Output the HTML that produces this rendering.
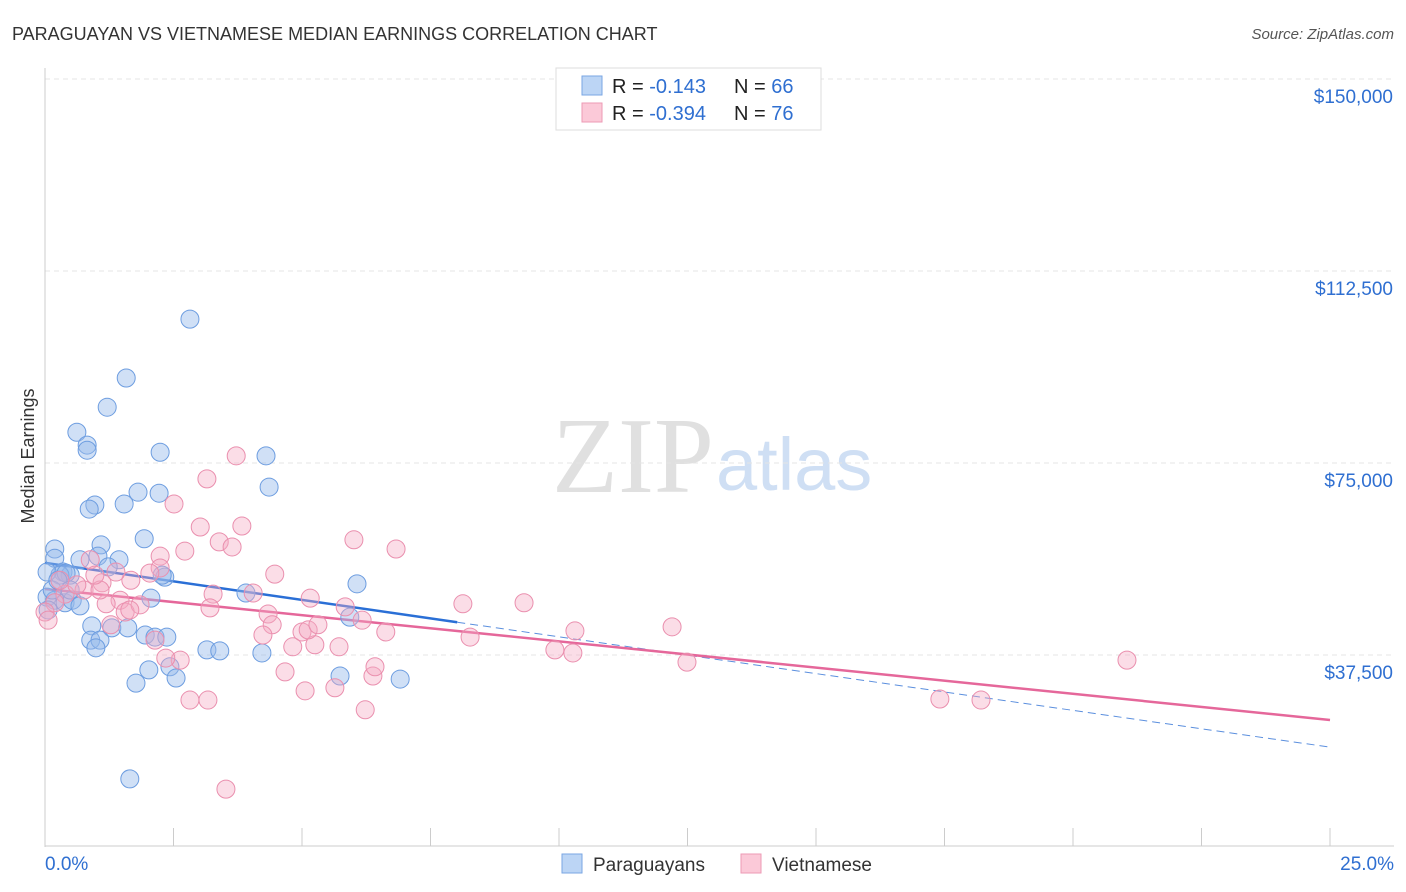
<!DOCTYPE html>
<html><head><meta charset="utf-8"><style>
body{margin:0;background:#fff;font-family:"Liberation Sans",sans-serif;}
svg{display:block}
</style></head><body>
<svg id="chart" width="1406" height="892">
<text x="12" y="40" font-size="18" fill="#333">PARAGUAYAN VS VIETNAMESE MEDIAN EARNINGS CORRELATION CHART</text>
<text x="1394" y="39" font-size="15" fill="#555" font-style="italic" text-anchor="end">Source: ZipAtlas.com</text>
<text x="714" y="492" font-size="108" fill="#e0e0e0" text-anchor="end" font-family="Liberation Serif,serif">ZIP</text>
<text x="716" y="490" font-size="74" fill="#cfdff4">atlas</text>
<text transform="translate(34,456) rotate(-90)" font-size="18" fill="#333" text-anchor="middle">Median Earnings</text>
<g id="grid"></g><g id="axes"></g><g id="lines"></g><g id="pts"></g>
<g>
<rect x="556" y="68" width="265" height="62" fill="#fff" stroke="#ddd"/>
<rect x="582" y="76" width="20" height="19" fill="#bcd5f5" stroke="#7aa6e3"/>
<rect x="582" y="103" width="20" height="19" fill="#fbc9d8" stroke="#ec9ab5"/>
<text x="612" y="93" font-size="20" fill="#222">R = <tspan fill="#2f6fd1"> -0.143</tspan><tspan x="734">N = </tspan><tspan fill="#2f6fd1">66</tspan></text>
<text x="612" y="120" font-size="20" fill="#222">R = <tspan fill="#2f6fd1">-0.394</tspan><tspan x="734">N = </tspan><tspan fill="#2f6fd1">76</tspan></text>
</g>
<g>
<rect x="562" y="854" width="20" height="19" fill="#bcd5f5" stroke="#7aa6e3"/>
<text x="593" y="871" font-size="19" fill="#333">Paraguayans</text>
<rect x="741" y="854" width="20" height="19" fill="#fbc9d8" stroke="#ec9ab5"/>
<text x="772" y="871" font-size="19" fill="#333">Vietnamese</text>
</g>
</svg>
<script>
const yTicks=[37500,75000,112500,150000];
const yTickLabels=["$37,500","$75,000","$112,500","$150,000"];
const xEndLabels=["0.0%","25.0%"];
const blueX=[2.82,1.58,1.21,0.62,0.82,0.82,2.24,4.30,4.36,2.22,1.81,0.97,0.86,1.54,1.93,0.19,1.09,0.19,0.68,1.03,1.44,1.23,0.35,0.49,0.29,0.04,0.41,2.33,2.28,0.04,0.19,0.39,0.53,0.68,2.06,3.91,6.07,5.93,0.91,1.30,1.61,1.95,2.14,2.37,0.89,1.07,0.99,3.15,3.40,4.22,2.02,2.43,2.55,1.77,5.74,6.91,1.65,0.06,0.14,0.25,0.49];
const blueY=[103.1,91.6,85.9,81.0,78.5,77.5,77.1,76.4,70.3,69.1,69.3,66.8,66.0,67.0,60.2,58.2,59.0,56.4,56.1,56.8,56.1,54.7,53.7,53.1,53.1,53.7,53.5,52.7,53.1,48.8,48.2,47.7,48.2,47.1,48.6,49.6,51.4,44.9,43.2,42.8,42.8,41.4,41.0,41.0,40.4,40.4,38.9,38.5,38.3,37.9,34.6,35.2,33.0,32.0,33.4,32.8,13.3,46.3,50.2,52.1,50.2];
const pinkX=[3.52,3.17,2.82,6.23,5.06,5.64,6.38,4.67,6.42,4.82,5.25,5.00,5.12,5.72,6.63,8.27,9.92,10.27,10.31,12.20,12.49,17.41,18.21,21.05,8.13,9.32,5.84,6.17,6.01,6.83,3.72,3.15,2.51,3.83,3.02,3.39,3.64,2.72,2.24,4.47,4.05,3.27,3.21,4.34,4.42,4.24,5.16,5.31,2.24,2.04,1.67,1.38,1.11,0.88,0.76,0.39,0.19,1.46,1.56,1.85,1.65,1.19,0.29,0.62,2.63,2.35,2.14,1.28,1.07,0.00,0.06,0.97];
const pinkY=[11.3,28.7,28.7,26.8,30.5,31.1,33.4,34.2,35.2,39.1,39.5,42.0,42.4,39.1,42.0,41.0,38.5,37.9,42.2,43.0,36.1,28.9,28.7,36.5,47.5,47.7,46.9,44.3,60.0,58.2,76.4,71.9,67.0,62.7,62.5,59.6,58.6,57.8,56.8,53.3,49.6,49.4,46.7,45.5,43.4,41.4,48.6,43.4,54.5,53.5,52.1,53.7,51.6,56.1,50.2,49.4,47.7,48.2,45.9,47.3,46.3,47.5,52.1,51.2,36.5,36.9,40.4,43.4,50.2,45.9,44.3,53.1];
const blueTrend=[[0,55.5],[8.02,43.9],[25,19.5]];
const pinkTrend=[[0,50.4],[25,24.8]];

const NS="http://www.w3.org/2000/svg";
const X=p=>45+p*1285/25;
const Y=v=>847-v*192/37500;
const Yk=k=>Y(k*1000);
function mk(tag,attrs,parent){const e=document.createElementNS(NS,tag);for(const k in attrs)e.setAttribute(k,attrs[k]);document.getElementById(parent).appendChild(e);return e;}

yTicks.forEach((t,i)=>{
 const l=mk('line',{x1:45,x2:1394,y1:Y(t),y2:Y(t),stroke:'#e4e4e4','stroke-dasharray':'5,4'},'grid');
 
 
 const tx=mk('text',{x:1393,y:Y(t)+24,'font-size':19,fill:'#2f6fd1','text-anchor':'end'},'axes');
 tx.textContent=yTickLabels[i];
 
 
});
const ya=mk('line',{x1:45,x2:45,y1:68,y2:847,stroke:'#ccc'},'axes');


const xa=mk('line',{x1:45,x2:1394,y1:846,y2:846,stroke:'#ccc'},'axes');


for(let i=1;i<=10;i++){
 const t=mk('line',{x1:X(i*2.5),x2:X(i*2.5),y1:828,y2:846,stroke:'#ccc'},'axes');
 
 
}
const xl0=mk('text',{x:45,y:870,'font-size':19,fill:'#2f6fd1'},'axes');
xl0.textContent=xEndLabels[0];


const xl1=mk('text',{x:1394,y:870,'font-size':19,fill:'#2f6fd1','text-anchor':'end'},'axes');
xl1.textContent=xEndLabels[1];



blueX.forEach((x,i)=>{
 const c=mk('circle',{cx:X(x),cy:Yk(blueY[i]),r:9,fill:'rgba(150,186,236,0.45)',stroke:'#6d9de0','stroke-width':1},'pts');
 
 
});
pinkX.forEach((x,i)=>{
 const c=mk('circle',{cx:X(x),cy:Yk(pinkY[i]),r:9,fill:'rgba(245,170,196,0.4)',stroke:'#ea8fae','stroke-width':1},'pts');
 
 
});
const bl=mk('line',{x1:X(blueTrend[0][0]),y1:Yk(blueTrend[0][1]),x2:X(blueTrend[1][0]),y2:Yk(blueTrend[1][1]),stroke:'#2a6fd6','stroke-width':2.5},'lines');


const bd=mk('line',{x1:X(blueTrend[1][0]),y1:Yk(blueTrend[1][1]),x2:X(blueTrend[2][0]),y2:Yk(blueTrend[2][1]),stroke:'#5b8fde','stroke-width':1,'stroke-dasharray':'8,5'},'lines');


const pl=mk('line',{x1:X(pinkTrend[0][0]),y1:Yk(pinkTrend[0][1]),x2:X(pinkTrend[1][0]),y2:Yk(pinkTrend[1][1]),stroke:'#e5679a','stroke-width':2.5},'lines');


</script>
</body></html>
